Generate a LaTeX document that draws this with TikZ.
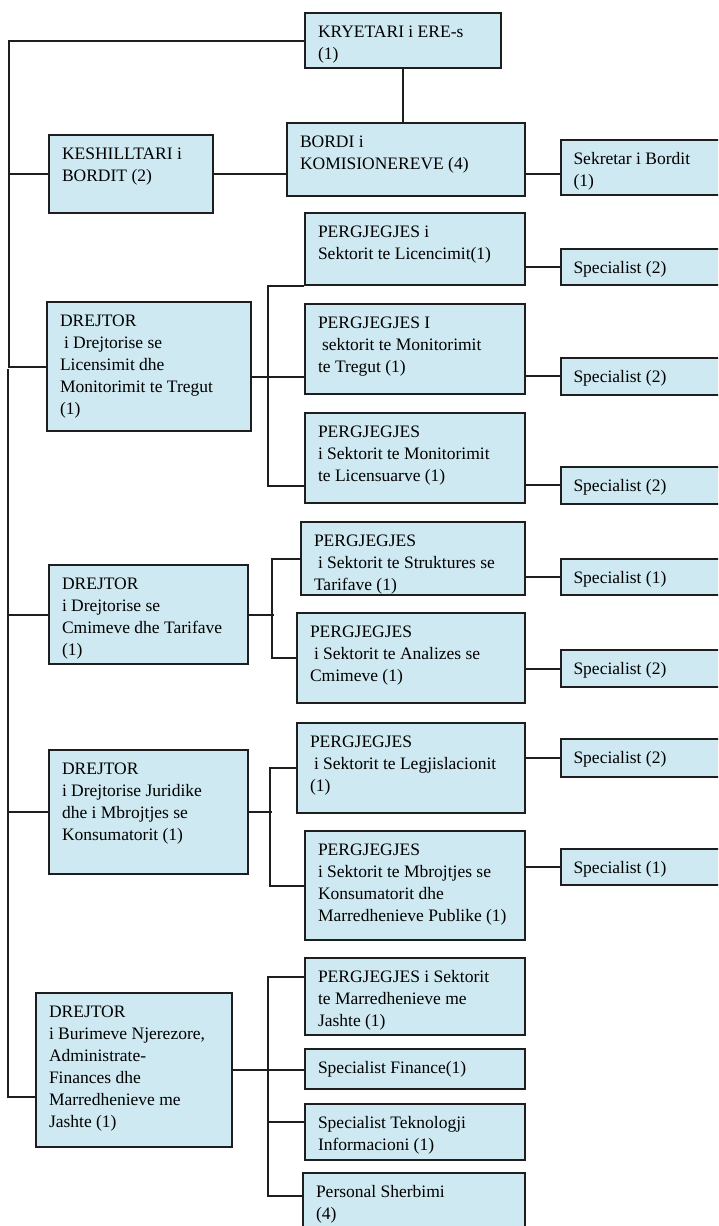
\documentclass[tikz,border=0pt]{standalone}
\usepackage{fontspec}
\setmainfont{Liberation Serif}
\definecolor{boxfill}{RGB}{206,233,241}
\definecolor{boxline}{RGB}{30,30,30}
\newcommand{\unitfont}{\fontsize{17.5}{22}\selectfont}
\newcommand{\unittext}[3]{\parbox[c][#2pt][t]{#1pt}{\raggedright\leftskip=13pt\relax\rule{0pt}{24pt}#3}}
\newcommand{\ind}{\hspace*{4pt}}
\begin{document}
\begin{tikzpicture}[x=1pt,y=-1pt,
        unit/.style={draw=boxline, fill=boxfill, line width=2pt, anchor=north west, inner sep=0pt, font=\unitfont},
        link/.style={draw=boxline, line width=2pt}]
        \useasboundingbox (0,0) rectangle (718,1226);
        \clip (0,0) rectangle (718,1226);
        \fill[white] (0,0) rectangle (718,1226);
        % head and board
        \node[unit] (kryetari) at (304,12) {\unittext{196}{55}{KRYETARI i ERE-s\\(1)}};
        \node[unit] (bordi) at (286,122) {\unittext{238}{73}{BORDI i\\KOMISIONEREVE (4)}};
        \node[unit] (keshill) at (48,134) {\unittext{164}{78}{KESHILLTARI i\\BORDIT (2)}};
        \node[unit] (sekretar) at (559.5,139) {\unittext{200}{55}{Sekretar i Bordit\\(1)}};
        % licensing and market monitoring
        \node[unit] (drejtor1) at (46,301) {\unittext{204}{129}{DREJTOR\\\ind i Drejtorise se\\Licensimit dhe\\Monitorimit te Tregut\\(1)}};
        \node[unit] (perg1) at (304,212) {\unittext{220}{72}{PERGJEGJES i\\Sektorit te Licencimit(1)}};
        \node[unit] (perg2) at (304,303) {\unittext{220}{90}{PERGJEGJES I\\\ind sektorit te Monitorimit\\te Tregut (1)}};
        \node[unit] (perg3) at (304,412) {\unittext{220}{90}{PERGJEGJES\\i Sektorit te Monitorimit\\te Licensuarve (1)}};
        \node[unit] (spec1) at (559.5,248) {\unittext{200}{36}{Specialist (2)}};
        \node[unit] (spec2) at (559.5,357) {\unittext{200}{36.5}{Specialist (2)}};
        \node[unit] (spec3) at (559.5,466) {\unittext{200}{36.5}{Specialist (2)}};
        % prices and tariffs
        \node[unit] (drejtor2) at (48,564) {\unittext{199}{99}{DREJTOR\\i Drejtorise se\\Cmimeve dhe Tarifave\\(1)}};
        \node[unit] (perg4) at (300,521) {\unittext{224}{73}{PERGJEGJES\\\ind i Sektorit te Struktures se\\Tarifave (1)}};
        \node[unit] (perg5) at (296,612) {\unittext{228}{90}{PERGJEGJES\\\ind i Sektorit te Analizes se\\Cmimeve (1)}};
        \node[unit] (spec4) at (559.5,558) {\unittext{200}{36}{Specialist (1)}};
        \node[unit] (spec5) at (559.5,649) {\unittext{200}{37}{Specialist (2)}};
        % legal and consumers
        \node[unit] (drejtor3) at (48,749) {\unittext{199}{124}{DREJTOR\\i Drejtorise Juridike\\dhe i Mbrojtjes se\\Konsumatorit (1)}};
        \node[unit] (perg6) at (296,722) {\unittext{228}{90}{PERGJEGJES\\\ind i Sektorit te Legjislacionit\\(1)}};
        \node[unit] (perg7) at (304,830) {\unittext{220}{109}{PERGJEGJES\\i Sektorit te Mbrojtjes se\\Konsumatorit dhe\\Marredhenieve Publike (1)}};
        \node[unit] (spec6) at (559.5,738) {\unittext{200}{37.5}{Specialist (2)}};
        \node[unit] (spec7) at (559.5,848) {\unittext{200}{36}{Specialist (1)}};
        % human resources, finance, foreign relations
        \node[unit] (drejtor4) at (35,992) {\unittext{196}{154}{DREJTOR\\i Burimeve Njerezore,\\Administrate-\\Finances dhe\\Marredhenieve me\\Jashte (1)}};
        \node[unit] (perg8) at (304,957) {\unittext{220}{77}{PERGJEGJES i Sektorit\\te Marredhenieve me\\Jashte (1)}};
        \node[unit] (finance) at (304,1048) {\unittext{220}{40}{Specialist Finance(1)}};
        \node[unit] (tekno) at (304,1103) {\unittext{220}{56}{Specialist Teknologji\\Informacioni (1)}};
        \node[unit] (personal) at (302,1172) {\unittext{222}{70}{Personal Sherbimi\\(4)}};
        % left rails
        \coordinate (railtop) at (8,369);
        \draw[link] (kryetari.west) -- ++(-295,0) |- (drejtor1.west);
        \draw[link] (keshill.west) -- ++(-39,0);
        \draw[link] ([yshift=-27pt]drejtor4.west) -- ++(-27,0) -- (railtop);
        \draw[link] (drejtor2.west) -- ++(-40,0);
        \draw[link] (drejtor3.west) -- ++(-40,0);
        % board
        \draw[link] (kryetari.south) -- (kryetari.south |- bordi.north);
        \draw[link] (keshill.east) -- (keshill.east -| bordi.west);
        \draw[link] (bordi.east |- keshill.east) -- (sekretar.west |- keshill.east);
        % branches
        \draw[link] (perg1.south west) -- ++(-36,0) |- ([yshift=-28pt]perg3.west);
        \draw[link] ([yshift=-10pt]drejtor1.east) -- ([yshift=-10pt]drejtor1.east -| perg2.west);
        \draw[link] (perg4.west) -- ++(-28,0) |- (perg5.west);
        \draw[link] (drejtor2.east) -- ++(25,0);
        \draw[link] (perg6.west) -- ++(-26,0) |- (perg7.west);
        \draw[link] (drejtor3.east) -- ++(23,0);
        \draw[link] ([yshift=20pt]perg8.west) -- ++(-36,0) |- ([yshift=12pt]personal.west);
        \draw[link] (drejtor4.east) -- (drejtor4.east -| finance.west);
        \draw[link] ([yshift=10pt]tekno.west) -- ++(-36,0);
        % specialists
        \draw[link] (spec1.west -| perg1.east) -- (spec1.west);
        \draw[link] (spec2.west -| perg2.east) -- (spec2.west);
        \draw[link] (spec3.west -| perg3.east) -- (spec3.west);
        \draw[link] (spec4.west -| perg4.east) -- (spec4.west);
        \draw[link] (spec5.west -| perg5.east) -- (spec5.west);
        \draw[link] (spec6.west -| perg6.east) -- (spec6.west);
        \draw[link] (spec7.west -| perg7.east) -- (spec7.west);
    \end{tikzpicture}
\end{document}
